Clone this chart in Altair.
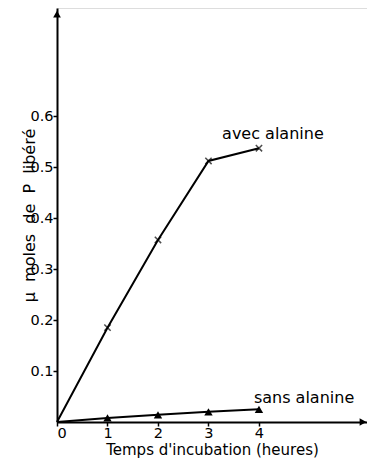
import altair as alt
import pandas as pd

hours = [0, 1, 2, 3, 4]
avec = [0.0, 0.185, 0.357, 0.512, 0.537]
sans = [0.0, 0.008, 0.014, 0.020, 0.025]

x_max = 6.14
y_max = 0.812

df_avec = pd.DataFrame({"h": hours, "v": avec})
df_sans = pd.DataFrame({"h": hours, "v": sans})
df_labels = pd.DataFrame({"h": [3.27, 3.9], "v": [0.565, 0.048],
                          "t": ["avec alanine", "sans alanine"]})
df_arrow_up = pd.DataFrame({"h": [0], "v": [0.8]})
df_arrow_right = pd.DataFrame({"h": [6.06], "v": [0]})

FONT = "DejaVu Sans"
NB = "\u00a0"

xs = alt.Scale(domain=[0, x_max], nice=False)
ys = alt.Scale(domain=[0, y_max], nice=False)

x_enc = alt.X("h:Q", scale=xs, axis=alt.Axis(
    title="Temps d'incubation (heures)", values=[0, 1, 2, 3, 4], format="d",
    grid=False, domainColor="black", domainWidth=2, tickColor="black",
    tickSize=4, tickWidth=1.5, labelFontSize=14.5, labelColor="black",
    labelFont=FONT, titleFont=FONT, titleFontSize=15, titleFontWeight="normal",
    titleColor="black", titlePadding=3, labelPadding=0))
y_enc = alt.Y("v:Q", scale=ys, axis=alt.Axis(
    title=f"μ{NB*2}moles{NB*2}de{NB*2}P{NB*2}libéré", values=[0.1, 0.2, 0.3, 0.4, 0.5, 0.6],
    format=".1f", grid=False, domainColor="black", domainWidth=2,
    tickColor="black", tickSize=4, tickWidth=1.5, labelFontSize=14.5,
    labelColor="black", labelFont=FONT, titleFont=FONT, titleFontSize=16,
    titleFontWeight="normal", titleColor="black", titlePadding=-8,
    labelPadding=0))

line_avec = alt.Chart(df_avec).mark_line(color="black", strokeWidth=2).encode(x=x_enc, y=y_enc)
pts_avec = alt.Chart(df_avec[df_avec.h > 0]).mark_point(
    shape="M-1,-1L1,1M-1,1L1,-1", size=40, color="black", strokeWidth=1.5).encode(x="h:Q", y="v:Q")
line_sans = alt.Chart(df_sans).mark_line(color="black", strokeWidth=2).encode(x="h:Q", y="v:Q")
pts_sans = alt.Chart(df_sans[df_sans.h > 0]).mark_point(
    shape="triangle-up", size=70, filled=True, color="black", opacity=1).encode(x="h:Q", y="v:Q")
labels = alt.Chart(df_labels).mark_text(
    align="left", baseline="middle", font=FONT, fontSize=16, color="black").encode(
    x="h:Q", y="v:Q", text="t:N")
arrow_up = alt.Chart(df_arrow_up).mark_point(
    shape="triangle-up", size=60, filled=True, color="black", opacity=1).encode(x="h:Q", y="v:Q")
arrow_right = alt.Chart(df_arrow_right).mark_point(
    shape="triangle-right", size=60, filled=True, color="black", opacity=1).encode(x="h:Q", y="v:Q")

chart = alt.layer(line_avec, pts_avec, line_sans, pts_sans, labels, arrow_up, arrow_right).properties(
    width=310, height=414,
    autosize=alt.AutoSizeParams(type="none"),
    padding={"left": 49, "top": 0, "right": 0, "bottom": 39},
).configure_view(stroke=None).configure(background="white")

chart.save("out.html", embed_options={"renderer": "svg", "actions": False})
